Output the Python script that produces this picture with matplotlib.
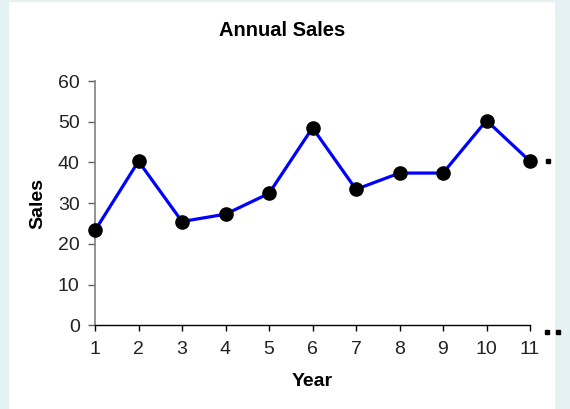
import matplotlib
matplotlib.use("Agg")
import matplotlib.pyplot as plt
from matplotlib.patches import Rectangle

plt.rcParams["font.family"] = ["Liberation Sans", "DejaVu Sans"]

years = [1, 2, 3, 4, 5, 6, 7, 8, 9, 10, 11]
sales = [23.3, 40.3, 25.5, 27.3, 32.4, 48.5, 33.4, 37.4, 37.4, 50.3, 40.3]

# stray dots past the end of the axis
trail_x = [11.41, 11.39, 11.64]
trail_y = [40.3, -1.5, -1.5]

fig = plt.figure(figsize=(5.7, 4.09), dpi=100)
fig.patch.set_facecolor("#e5f2f4")
fig.patches.append(Rectangle((9 / 570, 0), (555 - 9) / 570, 1 - 2 / 409,
                             transform=fig.transFigure, facecolor="white",
                             edgecolor="none", zorder=-10))

ax = fig.add_axes([95 / 570, 1 - 325.4 / 409, (530 - 95) / 570, (325.4 - 81) / 409])
ax.set_facecolor("none")

ax.plot(years, sales, color="#0000ff", linewidth=2.3, marker="o",
        markersize=9.5, markerfacecolor="black", markeredgecolor="black",
        clip_on=False, zorder=3)
ax.plot(trail_x, trail_y, linestyle="none", marker="s", markersize=2.4,
        color="black", clip_on=False)

ax.set_xlim(1, 11)
ax.set_ylim(0, 60)
ax.set_xticks(years)
ax.set_yticks(range(0, 61, 10))

for side in ("top", "right"):
    ax.spines[side].set_visible(False)
ax.spines["left"].set_color("#808080")
ax.spines["left"].set_linewidth(1.2)
ax.spines["bottom"].set_color("black")
ax.spines["bottom"].set_linewidth(1.0)

ax.tick_params(axis="y", direction="out", length=5, width=1, colors="#606060",
               labelcolor="#222222", labelsize=14, pad=6)
ax.tick_params(axis="x", direction="out", length=4, width=1, colors="black",
               labelcolor="#222222", labelsize=14, pad=7)

ax.set_xlabel("Year", fontsize=14, fontweight="bold", labelpad=11)
ax.set_ylabel("Sales", fontsize=14, fontweight="bold", labelpad=8)
fig.text(282 / 570, 1 - 30 / 409, "Annual Sales", ha="center", va="center",
         fontsize=14.5, fontweight="bold")

fig.savefig("out.png", dpi=100, facecolor=fig.get_facecolor())
